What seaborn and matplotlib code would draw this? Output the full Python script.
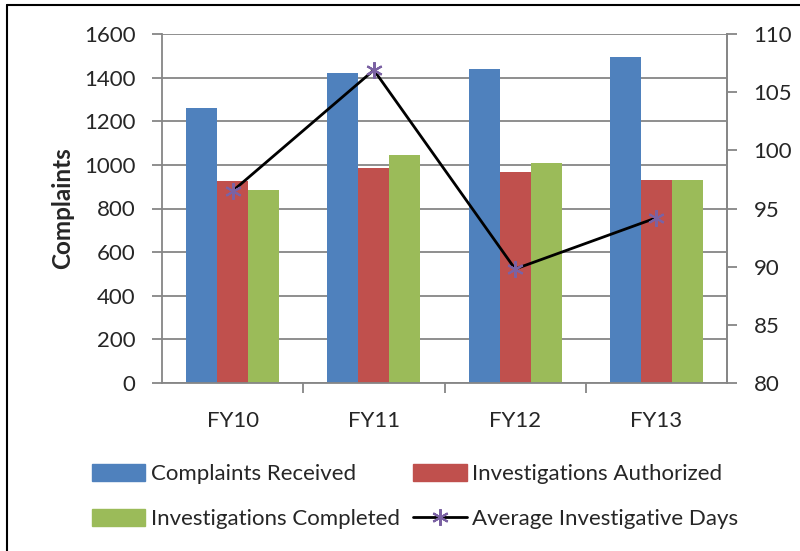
import numpy as np
import pandas as pd
import matplotlib.pyplot as plt
import matplotlib.lines as mlines
import matplotlib.patches as mpatches
import seaborn as sns

# data
years = ["FY10", "FY11", "FY12", "FY13"]
received = [1263, 1420, 1440, 1495]
authorized = [928, 986, 969, 931]
completed = [885, 1045, 1009, 931]
avg_days = [96.5, 106.9, 89.8, 94.2]

series_names = ["Complaints Received", "Investigations Authorized", "Investigations Completed"]
colors = ["#4F81BD", "#C0504D", "#9BBB59"]

df = pd.DataFrame({
    "Year": years * 3,
    "Series": np.repeat(series_names, len(years)),
    "Count": received + authorized + completed,
})
days = pd.DataFrame({"Year": years, "Days": avg_days})

sns.set_style("white")
plt.rcParams['font.family'] = ['Lato', 'DejaVu Sans']
grid_c = "#868686"
fs = 16

fig = plt.figure(figsize=(8, 5.51), dpi=100)
ax = fig.add_axes([162/800, 1 - 383/551, (727 - 162)/800, (383 - 34)/551])

sns.barplot(data=df, x="Year", y="Count", hue="Series", palette=colors,
            width=0.66, saturation=1, linewidth=0, ax=ax, legend=False)
ax.set_ylim(0, 1600)
ax.set_yticks(range(0, 1601, 200))
ax.set_xlim(-0.5, 3.5)
ax.grid(axis="y", color=grid_c, lw=1.3)
ax.set_axisbelow(True)
ax.set_xlabel("")
ax.set_ylabel("Complaints", fontsize=17.5, fontweight="bold", labelpad=7)
ax.tick_params(axis="y", labelsize=fs, length=7, color=grid_c, width=1.3, direction="out", left=True, pad=12)
ax.tick_params(axis="x", labelsize=fs, length=0, pad=20)
ax.set_xticks([0.5, 1.5, 2.5], minor=True)
ax.tick_params(axis="x", which="minor", length=7, color=grid_c, width=1.3, bottom=True)
ax.spines["top"].set_visible(False)
for s in ["left", "bottom", "right"]:
    ax.spines[s].set_color(grid_c)
    ax.spines[s].set_linewidth(1.3)

ax2 = ax.twinx()
sns.lineplot(data=days, x="Year", y="Days", color="black", lw=2, sort=False, ax=ax2,
             marker=(6, 2, 0), markersize=12, markeredgecolor="#7B62A3", markeredgewidth=1.5)
ax2.set_ylim(80, 110)
ax2.set_yticks(range(80, 111, 5))
ax2.set_ylabel("")
ax2.tick_params(axis="y", labelsize=fs, length=7, color=grid_c, width=1.3, direction="out", right=True, pad=12)
for s in ["top", "left", "bottom"]:
    ax2.spines[s].set_visible(False)
ax2.spines["right"].set_color(grid_c)
ax2.spines["right"].set_linewidth(1.3)

handles = [
    mpatches.Patch(color=colors[0], label=series_names[0]),
    mpatches.Patch(color=colors[2], label=series_names[2]),
    mpatches.Patch(color=colors[1], label=series_names[1]),
    mlines.Line2D([], [], color="black", lw=2, marker=(6, 2, 0), markersize=12,
                  markeredgecolor="#7B62A3", markeredgewidth=1.5, label="Average Investigative Days"),
]
fig.legend(handles=handles, ncol=2, loc="upper left", bbox_to_anchor=(92/800, 1 - 464/551),
           frameon=False, fontsize=fs, handlelength=2.4, handleheight=0.8, handletextpad=0.25,
           columnspacing=0.6, labelspacing=1.1, borderaxespad=0, borderpad=0)

# outer frame lines (left and top)
fig.add_artist(mlines.Line2D([7/800, 7/800], [0, 1 - 5/551], color="black", lw=1.5))
fig.add_artist(mlines.Line2D([7/800, 1], [1 - 5/551, 1 - 5/551], color="black", lw=1.5))

fig.savefig("out.png", dpi=100)
